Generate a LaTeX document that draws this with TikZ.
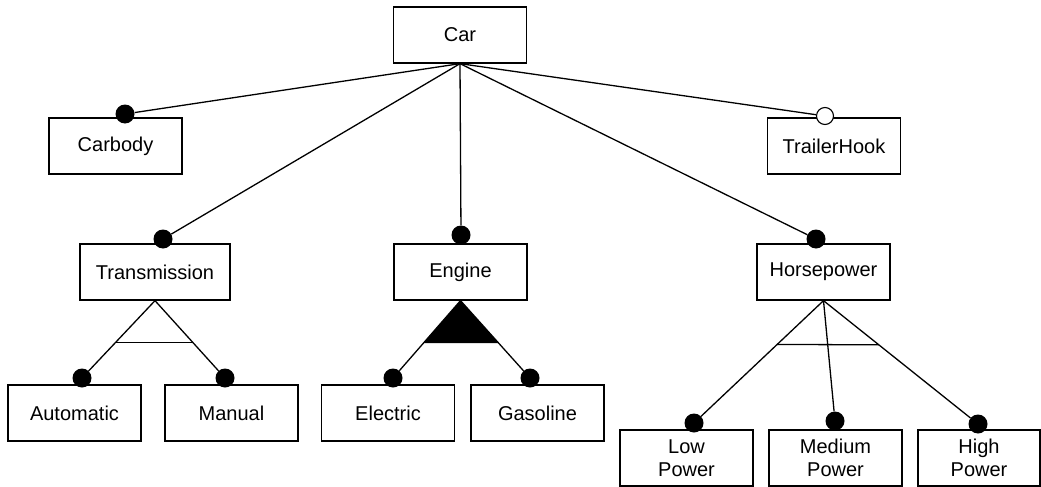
\documentclass[tikz,border=0pt]{standalone}
\usepackage{fontspec}
\setmainfont{Liberation Sans}
\usetikzlibrary{calc}
\begin{document}
\begin{tikzpicture}[x=1pt,y=-1pt,
  feature/.style={draw,line width=1.3pt,minimum width=133pt,minimum height=56pt,
    inner sep=0pt,align=center,font=\fontsize{20}{23}\selectfont},
  mand/.style={circle,fill=black,inner sep=0pt,minimum size=19pt},
  opt/.style={circle,draw,fill=white,line width=1.1pt,inner sep=0pt,minimum size=17pt},
  link/.style={line width=1.3pt}]
\useasboundingbox (0,0) rectangle (1041,487);

% feature boxes
\node[feature] (car) at (460,35) {Car};
\node[feature] (carbody) at (115.5,146) {Carbody};
\node[feature] (trailer) at (834,146) {TrailerHook};
\node[feature,minimum width=150pt] (trans) at (155,272) {Transmission};
\node[feature] (engine) at (460.5,272) {Engine};
\node[feature] (hp) at (823.5,272) {Horsepower};
\node[feature] (auto) at (74.5,413) {Automatic};
\node[feature] (manual) at (231.5,413) {Manual};
\node[feature] (electric) at (388,413) {Electric};
\node[feature] (gasoline) at (537.5,413) {Gasoline};
\node[feature] (low) at (686.5,458) {Low\\Power};
\node[feature] (medium) at (835.5,458) {Medium\\Power};
\node[feature,minimum width=122pt] (high) at (979,458) {High\\Power};

% connector end markers
\node[mand] (mCarbody) at (125,114) {};
\node[opt]  (mTrailer) at (825,116) {};
\node[mand] (mTrans) at (163,239) {};
\node[mand] (mEngine) at (461,235) {};
\node[mand] (mHp) at (816,239) {};
\node[mand] (mAuto) at (82,378) {};
\node[mand] (mManual) at (225,378) {};
\node[mand] (mElectric) at (393,378) {};
\node[mand] (mGasoline) at (530,378) {};
\node[mand] (mLow) at (694,423) {};
\node[mand] (mMedium) at (835,421) {};
\node[mand] (mHigh) at (978,424) {};

% Car sub-features
\foreach \m in {mCarbody,mTrailer,mTrans,mEngine,mHp}
  \draw[link] (car.south) -- (\m);

% Transmission: alternative group
\draw[link] (trans.south) -- (mAuto);
\draw[link] (trans.south) -- (mManual);
\draw[link] ($(trans.south)!0.538!(mAuto.center)$) -- ($(trans.south)!0.538!(mManual.center)$);

% Engine: or group (filled arc)
\fill ($(engine.south)$) -- ($(engine.south)!0.55!(mElectric.center)$) -- ($(engine.south)!0.55!(mGasoline.center)$) -- cycle;
\draw[link] (engine.south) -- (mElectric);
\draw[link] (engine.south) -- (mGasoline);

% Horsepower: alternative group
\draw[link] (hp.south) -- (mLow);
\draw[link] (hp.south) -- (mMedium);
\draw[link] (hp.south) -- (mHigh);
\draw[link] ($(hp.south)!0.358!(mLow.center)$) -- ($(hp.south)!0.358!(mHigh.center)$);
\end{tikzpicture}
\end{document}
